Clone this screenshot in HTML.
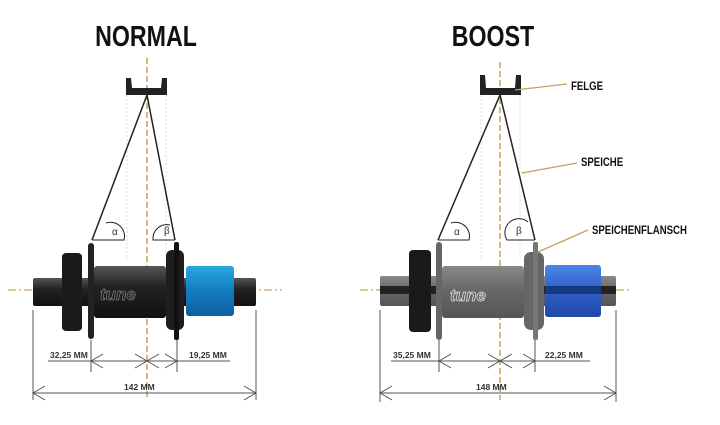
<!DOCTYPE html>
<html><head><meta charset="utf-8"><style>
html,body{margin:0;padding:0;background:#fff;}
svg{display:block;}
text{font-family:"Liberation Sans",sans-serif;}
</style></head><body>
<svg width="720" height="425" viewBox="0 0 720 425" xmlns="http://www.w3.org/2000/svg">
<defs>
<linearGradient id="metal" x1="0" y1="0" x2="0" y2="1">
<stop offset="0" stop-color="#555"/><stop offset="0.4" stop-color="#222"/><stop offset="1" stop-color="#111"/></linearGradient>
<linearGradient id="grey" x1="0" y1="0" x2="0" y2="1">
<stop offset="0" stop-color="#888"/><stop offset="0.5" stop-color="#666"/><stop offset="1" stop-color="#555"/></linearGradient>
<linearGradient id="blue" x1="0" y1="0" x2="0" y2="1">
<stop offset="0" stop-color="#2aa8e0"/><stop offset="0.5" stop-color="#137cc0"/><stop offset="1" stop-color="#0d5f9c"/></linearGradient>
<linearGradient id="blue2" x1="0" y1="0" x2="0" y2="1">
<stop offset="0" stop-color="#4a86e8"/><stop offset="0.5" stop-color="#2f5fc8"/><stop offset="1" stop-color="#1f48a8"/></linearGradient>
</defs>
<g font-weight="bold" fill="#111">
<text x="146" y="46" text-anchor="middle" font-size="29" transform="translate(146 0) scale(0.8 1) translate(-146 0)">NORMAL</text>
<text x="493" y="46" text-anchor="middle" font-size="29" transform="translate(493 0) scale(0.8 1) translate(-493 0)">BOOST</text>
</g>

<!-- NORMAL -->
<g>
<line x1="8" y1="290" x2="282" y2="290" stroke="#c8a060" stroke-width="1.3" stroke-dasharray="8 3 2 3"/>
<line x1="147" y1="58" x2="147" y2="400" stroke="#c8a060" stroke-width="1.5" stroke-dasharray="6 3"/>
<line x1="127" y1="95" x2="127" y2="260" stroke="#ddd" stroke-dasharray="2 2"/>
<line x1="166" y1="95" x2="166" y2="260" stroke="#ddd" stroke-dasharray="2 2"/>
<path d="M126 95 L126 78 L131 78 L132 88 L161 88 L162 78 L167 78 L167 95 Z" fill="#222"/>
<polyline points="92,240 147,95 175,240" fill="none" stroke="#222" stroke-width="1.5"/>
<path d="M92 240 L124 240 A14 14 0 0 0 106 223" fill="none" stroke="#222" stroke-width="1"/>
<text x="112" y="235" font-size="10" fill="#333">α</text>
<path d="M175 240 L153 240 A14 14 0 0 1 170 225" fill="none" stroke="#222" stroke-width="1"/>
<text x="164" y="234" font-size="10" fill="#333">β</text>
<!-- hub -->
<rect x="33" y="278" width="223" height="28" rx="2" fill="url(#metal)"/>
<rect x="62" y="253" width="20" height="78" rx="4" fill="#1a1a1a"/>
<rect x="88" y="243" width="6" height="96" rx="3" fill="#222"/>
<rect x="94" y="266" width="72" height="52" rx="3" fill="url(#metal)"/>
<rect x="166" y="250" width="18" height="80" rx="6" fill="#1e1e1e"/>
<rect x="174" y="242" width="5" height="98" rx="2" fill="#111"/>
<rect x="186" y="266" width="48" height="50" rx="3" fill="url(#blue)"/>
<text x="100" y="300" font-size="17" font-style="italic" font-weight="bold" fill="none" stroke="#777" stroke-width="0.8">tune</text>
<!-- dims -->
<g stroke="#555" stroke-width="1" fill="none">
<line x1="33" y1="310" x2="33" y2="400"/><line x1="256" y1="310" x2="256" y2="400"/>
<line x1="91" y1="340" x2="91" y2="372"/><line x1="177" y1="340" x2="177" y2="372"/>
<line x1="48" y1="361" x2="230" y2="361"/>
<polyline points="103,354 91,361 103,368"/><polyline points="135,354 147,361 135,368"/>
<polyline points="159,354 147,361 159,368"/><polyline points="165,354 177,361 165,368"/>
<line x1="33" y1="393" x2="256" y2="393"/>
<polyline points="45,386 33,393 45,400"/><polyline points="244,386 256,393 244,400"/>
</g>
<g font-size="8.5" font-weight="bold" fill="#333">
<text x="50" y="358">32,25 MM</text><text x="189" y="358">19,25 MM</text><text x="124" y="390">142 MM</text>
</g>
</g>

<!-- BOOST -->
<g>
<line x1="360" y1="290" x2="630" y2="290" stroke="#c8a060" stroke-width="1.3" stroke-dasharray="8 3 2 3"/>
<line x1="500" y1="62" x2="500" y2="400" stroke="#c8a060" stroke-width="1.5" stroke-dasharray="6 3"/>
<line x1="481" y1="95" x2="481" y2="260" stroke="#ddd" stroke-dasharray="2 2"/>
<line x1="520" y1="95" x2="520" y2="260" stroke="#ddd" stroke-dasharray="2 2"/>
<path d="M480 95 L480 75 L485 75 L486 88 L515 88 L516 75 L521 75 L521 95 Z" fill="#222"/>
<polyline points="438,240 500,95 535,240" fill="none" stroke="#222" stroke-width="1.5"/>
<path d="M438 240 L469 240 A14 14 0 0 0 451 223" fill="none" stroke="#222" stroke-width="1"/>
<text x="454" y="235" font-size="10" fill="#333">α</text>
<path d="M535 240 L507 240 A14 14 0 0 1 528 222" fill="none" stroke="#222" stroke-width="1"/>
<text x="516" y="234" font-size="10" fill="#333">β</text>
<rect x="380" y="276" width="236" height="30" rx="2" fill="url(#grey)"/>
<rect x="380" y="286" width="236" height="8" fill="#222"/>
<rect x="409" y="250" width="22" height="82" rx="4" fill="#1a1a1a"/>
<rect x="436" y="242" width="6" height="98" rx="3" fill="#666"/>
<rect x="442" y="266" width="82" height="52" rx="3" fill="url(#grey)"/>
<rect x="524" y="252" width="20" height="78" rx="7" fill="#666"/>
<rect x="533" y="242" width="5" height="98" rx="2" fill="#777"/>
<rect x="545" y="265" width="56" height="52" rx="3" fill="url(#blue2)"/>
<rect x="545" y="286" width="56" height="8" fill="#163a80"/>
<text x="450" y="301" font-size="17" font-style="italic" font-weight="bold" fill="none" stroke="#ddd" stroke-width="0.8">tune</text>
<g stroke="#c8a060" stroke-width="1.3"><line x1="515" y1="90" x2="567" y2="84"/><line x1="522" y1="173" x2="577" y2="163"/><line x1="538" y1="252" x2="588" y2="230"/></g>
<g font-size="12" font-weight="bold" fill="#111">
<text x="571" y="90" transform="translate(571 0) scale(0.8 1) translate(-571 0)">FELGE</text>
<text x="581" y="166" transform="translate(581 0) scale(0.8 1) translate(-581 0)">SPEICHE</text>
<text x="592" y="234" transform="translate(592 0) scale(0.8 1) translate(-592 0)">SPEICHENFLANSCH</text>
</g>
<g stroke="#555" stroke-width="1" fill="none">
<line x1="380" y1="310" x2="380" y2="402"/><line x1="616" y1="310" x2="616" y2="402"/>
<line x1="439" y1="340" x2="439" y2="372"/><line x1="535" y1="340" x2="535" y2="372"/>
<line x1="391" y1="361" x2="590" y2="361"/>
<polyline points="451,354 439,361 451,368"/><polyline points="488,354 500,361 488,368"/>
<polyline points="512,354 500,361 512,368"/><polyline points="523,354 535,361 523,368"/>
<line x1="380" y1="393" x2="616" y2="393"/>
<polyline points="392,386 380,393 392,400"/><polyline points="604,386 616,393 604,400"/>
</g>
<g font-size="8.5" font-weight="bold" fill="#333">
<text x="393" y="358">35,25 MM</text><text x="545" y="358">22,25 MM</text><text x="476" y="390">148 MM</text>
</g>
</g>
</svg>
</body></html>
